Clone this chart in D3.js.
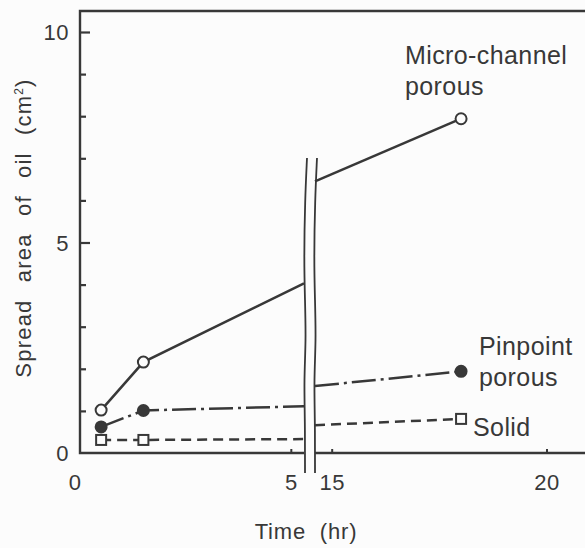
<!DOCTYPE html>
<html>
<head>
<meta charset="utf-8">
<script src="https://cdn.jsdelivr.net/npm/d3@7"></script>
<style>
  body { margin: 0; background: #fcfcfc; }
  svg { display: block; }
  text { font-family: "Liberation Sans", Arial, sans-serif; fill: #383838; }
</style>
</head>
<body>
<div id="chart"></div>
<script>
// hours, with the axis broken between 5 and 15
var hoursEarly = [0.5, 1.5, 5.3]
var hoursLate = [14.6, 18]

var microEarly = [1.02, 2.16, 4.03]
var microLate = [6.45, 7.94]
var pinEarly = [0.62, 1.01, 1.11]
var pinLate = [1.59, 1.94]
var solidEarly = [0.31, 0.31, 0.33]
var solidLate = [0.66, 0.81]

var xTicks = [0, 5, 15, 20]
var yMajor = [0, 5, 10]
var yMinor = [1, 2, 3, 4, 6, 7, 8, 9]

var W = 585, H = 548
var svg = d3.select("#chart").append("svg")
  .attr("width", W).attr("height", H)

var ink = "#383838"

// piecewise scale: the gap 5.3..14.6 collapses into the break
var x = d3.scaleLinear()
  .domain([0, 5.3, 14.6, 20])
  .range([80, 304, 315, 547])
var y = d3.scaleLinear().domain([0, 10]).range([453, 32])

var x0 = x(0), yTop = y(10.5), yBase = y(0)

// frame: left axis, top line, bottom axis (split at the break)
svg.append("path")
  .attr("d", "M" + W + "," + yTop + "H" + x0 + "V" + yBase + "H" + x(5.3))
  .attr("fill", "none").attr("stroke", ink).attr("stroke-width", 2.4)
svg.append("path")
  .attr("d", "M" + x(14.6) + "," + yBase + "H" + W)
  .attr("fill", "none").attr("stroke", ink).attr("stroke-width", 2.4)

// y ticks point inwards
var gy = svg.append("g").attr("transform", "translate(" + x0 + ",0)")
gy.call(d3.axisLeft(y).tickValues(yMinor).tickSize(-6).tickFormat(""))
gy.append("g").call(d3.axisLeft(y).tickValues([5, 10]).tickSize(-10).tickFormat(""))
gy.selectAll(".domain").remove()
gy.selectAll("line").attr("stroke", ink).attr("stroke-width", 2.2)

svg.selectAll(".ylab").data(yMajor).enter().append("text")
  .attr("class", "ylab")
  .attr("x", x0 - 11).attr("y", d => y(d) + 8)
  .attr("text-anchor", "end")
  .style("font-size", "22px").style("letter-spacing", "0.5px")
  .text(d => d)

// x ticks point upwards
svg.selectAll(".xtick").data(xTicks.slice(1)).enter().append("line")
  .attr("x1", d => x(d)).attr("x2", d => x(d))
  .attr("y1", yBase).attr("y2", yBase - 4)
  .attr("stroke", ink).attr("stroke-width", 2)

svg.selectAll(".xlab").data(xTicks).enter().append("text")
  .attr("class", "xlab")
  .attr("x", (d, i) => i == 0 ? x(d) - 5 : x(d))
  .attr("y", 490)
  .attr("text-anchor", "middle")
  .style("font-size", "22px").style("letter-spacing", "0.5px")
  .text(d => d)

svg.append("text")
  .attr("x", 306).attr("y", 539)
  .attr("text-anchor", "middle")
  .style("font-size", "22px").style("letter-spacing", "0.8px").style("word-spacing", "7px")
  .text("Time (hr)")

var yt = svg.append("text")
  .attr("transform", "translate(31," + 228 + ") rotate(-90)")
  .attr("text-anchor", "middle")
  .style("font-size", "22px").style("letter-spacing", "1.2px").style("word-spacing", "10px")
yt.append("tspan").text("Spread area of oil (cm")
yt.append("tspan").attr("dy", -8).style("font-size", "12px").text("2")
yt.append("tspan").attr("dy", 8).text(")")

// break marks
var wave = d3.line().curve(d3.curveBasis)
var waveY = [158, 200, 260, 300, 340, 380, 420, 473]
var waveDx = [2, 0, -1, 0, 1, -1, 0, 0]
;[305, 315].forEach(function (bx) {
  svg.append("path")
    .attr("d", wave(waveY.map((wy, i) => [bx + waveDx[i], wy])))
    .attr("fill", "none").attr("stroke", ink).attr("stroke-width", 1.8)
})

var line = d3.line().x(d => x(d[0])).y(d => y(d[1]))

var series = [
  { early: microEarly, late: microLate, dash: null, mark: "open" },
  { early: pinEarly, late: pinLate, dash: "24,5,3,5", mark: "filled" },
  { early: solidEarly, late: solidLate, dash: "10,6", mark: "square" }
]

series.forEach(function (s) {
  var a = hoursEarly.map((h, i) => [h, s.early[i]])
  var b = hoursLate.map((h, i) => [h, s.late[i]])
  ;[a, b].forEach(function (pts) {
    svg.append("path").attr("d", line(pts))
      .attr("fill", "none").attr("stroke", ink).attr("stroke-width", 2.5)
      .attr("stroke-dasharray", s.dash)
  })
  // markers at measured points (not at the break ends)
  var marks = a.slice(0, 2).concat(b.slice(1))
  marks.forEach(function (p) {
    if (s.mark == "square") {
      svg.append("rect")
        .attr("x", x(p[0]) - 5).attr("y", y(p[1]) - 5)
        .attr("width", 10).attr("height", 10)
        .attr("fill", "#fcfcfc").attr("stroke", ink).attr("stroke-width", 2)
    } else {
      svg.append("circle")
        .attr("cx", x(p[0])).attr("cy", y(p[1])).attr("r", 5.5)
        .attr("fill", s.mark == "filled" ? ink : "#fcfcfc")
        .attr("stroke", ink).attr("stroke-width", 2)
    }
  })
})

// series labels
var labels = [
  { lines: ["Micro-channel", "porous"], x: 405, y: 64 },
  { lines: ["Pinpoint", "porous"], x: 479, y: 355 },
  { lines: ["Solid"], x: 473, y: 436 }
]
labels.forEach(function (l) {
  var t = svg.append("text").attr("x", l.x).attr("y", l.y)
    .style("font-size", "25px").style("letter-spacing", "0.4px")
  l.lines.forEach(function (s, i) {
    t.append("tspan").attr("x", l.x).attr("dy", i == 0 ? 0 : 31).text(s)
  })
})
</script>
</body>
</html>
